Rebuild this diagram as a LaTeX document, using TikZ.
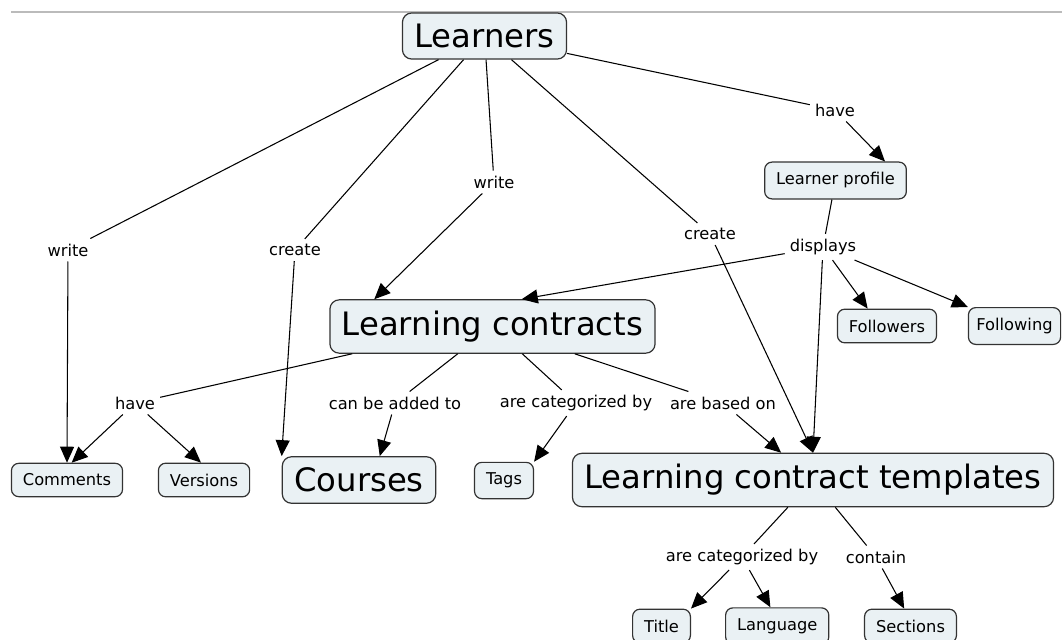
\documentclass[tikz,border=0pt]{standalone}
\usepackage{fontspec}
\setmainfont{DejaVu Sans}
\usetikzlibrary{positioning,arrows.meta}

\definecolor{cfill}{HTML}{EAF1F4}
\definecolor{cline}{HTML}{333333}
\definecolor{topline}{HTML}{BBBBBB}

\begin{document}
\begin{tikzpicture}[
    x=0.75pt, y=-0.75pt, line width=0.8pt,
    big/.style={rectangle, rounded corners=7pt, draw=cline, line width=0.9pt, fill=cfill, inner xsep=9pt, inner ysep=8.3pt, font=\fontsize{24.2}{29}\selectfont},
    small/.style={rectangle, rounded corners=5.5pt, draw=cline, line width=0.9pt, fill=cfill, inner xsep=8.6pt, inner ysep=7.9pt, font=\fontsize{12.2}{14.6}\selectfont},
    lbl/.style={rectangle, inner sep=3.5pt, font=\fontsize{12.2}{14.6}\selectfont},
    ]
    \useasboundingbox (0,0) rectangle (1062,639);
    \draw[topline, line width=1.1pt] (11,12) -- (1062,12);

    % concepts
    \node[big]   (lrn)   at (484.5,36)  {Learners};
    \node[small] (lprof) at (835.5,180.5) {Learner profile};
    \node[small] (fol1)  at (887,326)   {Followers};
    \node[small, inner xsep=6pt, right=23pt of fol1] (fol2) {Following};
    \node[big]   (lc)    at (492.5,326.5) {Learning contracts};
    \node[small] (cmt)   at (67,480)    {Comments};
    \node[small, right=26pt of cmt] (ver) {Versions};
    \node[big]   (crs)   at (359,480)   {Courses};
    \node[small] (tag)   at (504,480.5) {Tags};
    \node[big]   (lct)   at (813,480)   {Learning contract templates};
    \node[small] (ttl)   at (661.5,626) {Title};
    \node[small, right=25.5pt of ttl] (lang) {Language};
    \node[small] (sec)   at (910.5,626) {Sections};

    % linking phrases
    \node[lbl] (w1)   at (68,250)  {write};
    \node[lbl] (cr1)  at (295,250) {create};
    \node[lbl] (w2)   at (494,182) {write};
    \node[lbl] (cr2)  at (710,234) {create};
    \node[lbl] (hv1)  at (835,110) {have};
    \node[lbl] (disp) at (823,247) {displays};
    \node[lbl] (hv2)  at (135,403) {have};
    \node[lbl] (add)  at (395,403) {can be added to};
    \node[lbl] (cat1) at (576,403) {are categorized by};
    \node[lbl] (base) at (723,403) {are based on};
    \node[lbl] (cat2) at (742,557) {are categorized by};
    \node[lbl] (cont) at (876,557) {contain};

    % learners arrows
    \draw[-]                          (lrn) to (w1);
    \draw[-{Triangle[length=12pt, width=10.5pt]}] (w1) to (cmt.north);
    \draw[-]                          (lrn) to (cr1);
    \draw[-{Triangle[length=12pt, width=10.5pt]}] (cr1) to (crs.north west);
    \draw[-]                          (lrn) to (w2);
    \draw[-{Triangle[length=12pt, width=10.5pt]}] (w2) to (lc.167);
    \draw[-]                          (lrn) to (cr2);
    \draw[-{Triangle[length=12pt, width=10.5pt]}] (cr2) to (lct.north);
    \draw[-]                          (lrn) to (hv1);
    \draw[-{Triangle[length=12pt, width=10.5pt]}] (hv1) to (lprof.21);

    % profile arrows
    \draw[-]                          (lprof) to (disp);
    \draw[-{Triangle[length=12pt, width=10.5pt]}] (disp) to (lc.43);
    \draw[-{Triangle[length=12pt, width=10.5pt]}] (disp) to (fol1.138);
    \draw[-{Triangle[length=12pt, width=10.5pt]}] (disp) to (fol2.north west);
    \draw[-{Triangle[length=12pt, width=10.5pt]}] (disp) to (lct.north);

    % learning contract arrows
    \draw[-]                          (lc.191) to (hv2);
    \draw[-{Triangle[length=12pt, width=10.5pt]}] (hv2) to (cmt.75);
    \draw[-{Triangle[length=12pt, width=10.5pt]}] (hv2) to (ver.100);
    \draw[-]                          (lc) to (add);
    \draw[-{Triangle[length=12pt, width=10.5pt]}] (add) to (crs.49);
    \draw[-]                          (lc) to (cat1);
    \draw[-{Triangle[length=12pt, width=10.5pt]}] (cat1) to (tag.north east);
    \draw[-]                          (lc) to (base);
    \draw[-{Triangle[length=12pt, width=10.5pt]}] (base) to (lct);

    % template arrows
    \draw[-]                          (lct) to (cat2);
    \draw[-{Triangle[length=12pt, width=10.5pt]}] (cat2) to (ttl.north east);
    \draw[-{Triangle[length=12pt, width=10.5pt]}] (cat2) to (lang.110);
    \draw[-]                          (lct) to (cont);
    \draw[-{Triangle[length=12pt, width=10.5pt]}] (cont) to (sec.110);
\end{tikzpicture}
\end{document}
